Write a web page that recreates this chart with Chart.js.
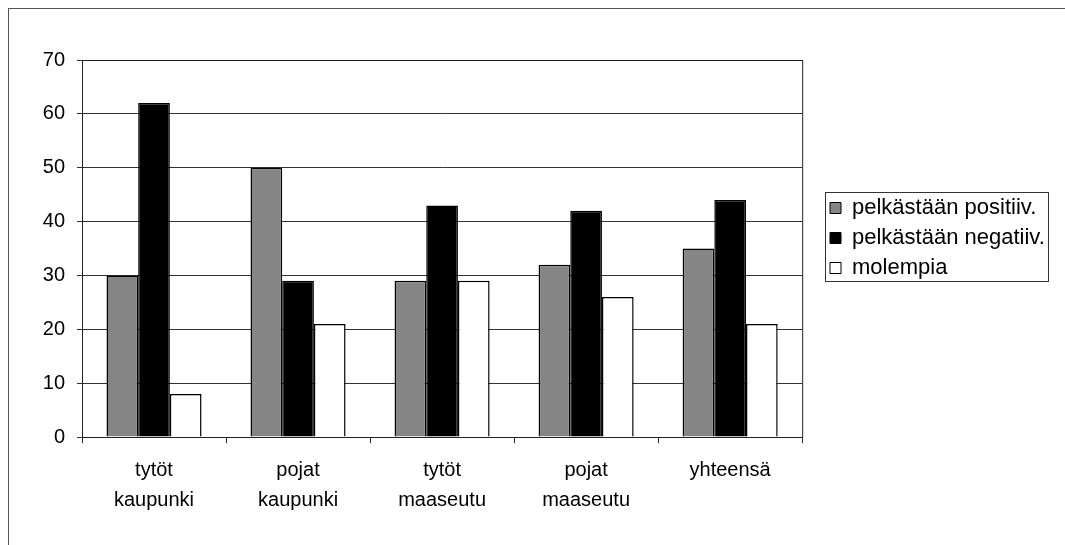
<!DOCTYPE html>
<html>
<head>
<meta charset="utf-8">
<script src="https://cdn.jsdelivr.net/npm/chart.js@4/dist/chart.umd.min.js"></script>
<style>
  body { margin: 0; background: #fff; }
  #wrap { position: relative; width: 1065px; height: 545px; }
  #frame { position: absolute; left: 8px; top: 8px; right: 0; bottom: 0;
           border-left: 1px solid #555; border-top: 1px solid #555; }
</style>
</head>
<body>
<div id="wrap">
  <div id="frame"></div>
  <canvas id="myChart" width="1065" height="545"></canvas>
</div>
<script>
//******** Data ********
const categories = [
  ['tytöt', 'kaupunki'],
  ['pojat', 'kaupunki'],
  ['tytöt', 'maaseutu'],
  ['pojat', 'maaseutu'],
  'yhteensä'
];
const positiiv = [30, 50, 29, 32, 35];
const negatiiv = [62, 29, 43, 42, 44];
const molempia = [8, 21, 29, 26, 21];
const seriesNames = ['pelkästään positiiv.', 'pelkästään negatiiv.', 'molempia'];
const yTicks = [0, 10, 20, 30, 40, 50, 60, 70];

//******** Plot frame + legend box ********
const framePlugin = {
  id: 'frames',
  beforeDraw(chart) {
    // move the legend to where the original has it (legend clips to its own box)
    const lg = chart.legend;
    lg.left = 822;
    lg.right = 1065;
    lg.top = 189;
    lg.bottom = 545;
  },
  afterDraw(chart) {
    const ctx = chart.ctx;
    const a = chart.chartArea;
    ctx.save();
    ctx.strokeStyle = '#222';
    ctx.lineWidth = 1;
    ctx.strokeRect(a.left + 0.5, a.top + 0.5, a.right - a.left, a.bottom - a.top);
    ctx.strokeStyle = '#333';
    ctx.strokeRect(825.5, 192.5, 223, 89);
    ctx.restore();
  }
};

const ctx = document.getElementById('myChart').getContext('2d');
const myChart = new Chart(ctx, {
  type: 'bar',
  data: {
    labels: categories,
    datasets: [{
      label: seriesNames[0],
      data: positiiv,
      backgroundColor: '#858585',
      borderColor: '#000',
      borderWidth: 1.5
    }, {
      label: seriesNames[1],
      data: negatiiv,
      backgroundColor: '#000',
      borderColor: '#000',
      borderWidth: 1.5
    }, {
      label: seriesNames[2],
      data: molempia,
      backgroundColor: '#fff',
      borderColor: '#000',
      borderWidth: 1.5
    }]
  },
  options: {
    responsive: false,
    animation: false,
    layout: { padding: { left: 0, top: 60, right: 30, bottom: 0 } },
    datasets: {
      bar: { categoryPercentage: 0.66, barPercentage: 1.0 }
    },
    plugins: {
      tooltip: { enabled: false },
      legend: {
        position: 'right',
        align: 'start',
        labels: {
          color: '#000',
          font: { family: 'Liberation Sans, Arial', size: 22 },
          boxWidth: 11,
          boxHeight: 11,
          padding: 8,
          generateLabels(chart) {
            return chart.data.datasets.map((ds, i) => ({
              text: ds.label,
              fillStyle: ds.backgroundColor,
              strokeStyle: '#000',
              lineWidth: 1,
              datasetIndex: i,
              fontColor: '#000'
            }));
          }
        }
      }
    },
    scales: {
      x: {
        grid: { offset: true, drawOnChartArea: false, tickLength: 6, color: '#222' },
        border: { color: '#222' },
        ticks: {
          color: '#000',
          padding: 12,
          font: { family: 'Liberation Sans, Arial', size: 20, lineHeight: 1.5 }
        },
        afterFit(scale) { scale.height = 108; }
      },
      y: {
        min: 0,
        max: 70,
        afterBuildTicks(scale) { scale.ticks = yTicks.map(v => ({ value: v })); },
        grid: { color: '#333', tickLength: 5 },
        border: { color: '#222' },
        ticks: {
          color: '#000',
          padding: 12,
          font: { family: 'Liberation Sans, Arial', size: 20 }
        },
        afterFit(scale) { scale.width = 82; }
      }
    }
  },
  plugins: [framePlugin]
});
</script>
</body>
</html>
